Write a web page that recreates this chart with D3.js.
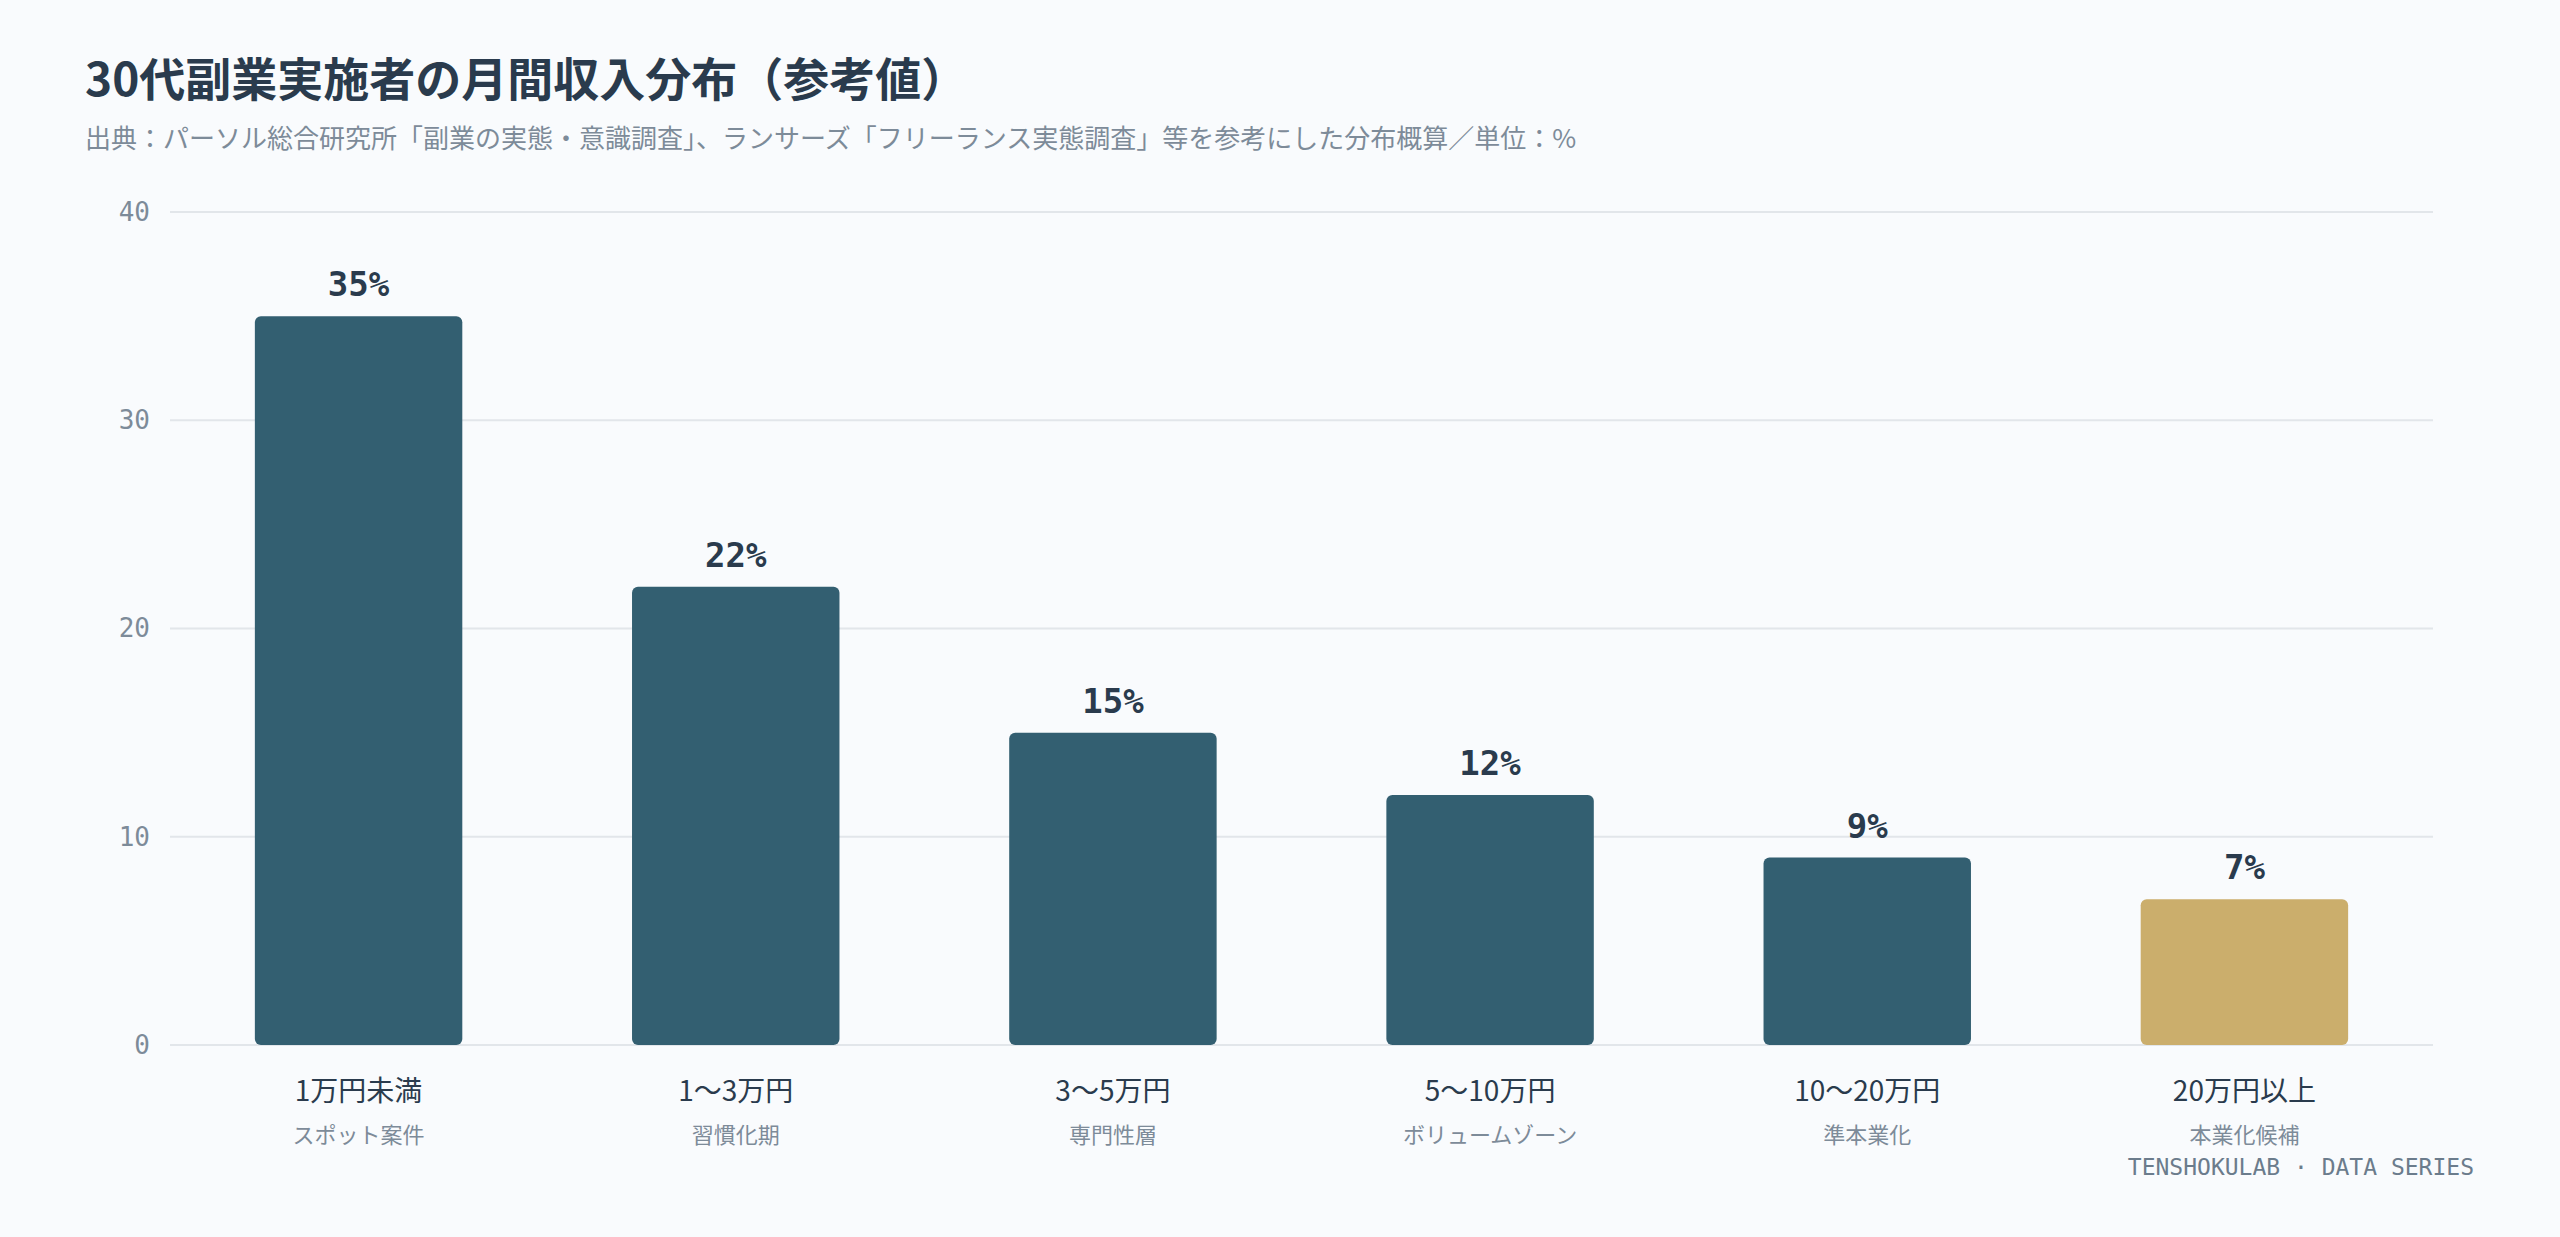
<!DOCTYPE html>
<html>
<head>
<meta charset="utf-8">
<script src="https://cdn.jsdelivr.net/npm/d3@7"></script>
<style>
  body { margin: 0; background: #f9fbfd; }
  svg { display: block; }
</style>
</head>
<body>
<div id="chart"></div>
<script>
const categories = ["1万円未満", "1〜3万円", "3〜5万円", "5〜10万円", "10〜20万円", "20万円以上"];
const subLabels = ["スポット案件", "習慣化期", "専門性層", "ボリュームゾーン", "準本業化", "本業化候補"];
const values = [35, 22, 15, 12, 9, 7];
const yTicks = [0, 10, 20, 30, 40];

const WIDTH = 2560, HEIGHT = 1237;
const MARGIN = { top: 212, right: 127, bottom: 192, left: 170 };
const SANS = "'Noto Sans CJK JP', 'Noto Sans', sans-serif";
const MONO = "'DejaVu Sans Mono', monospace";

const svg = d3.select("#chart").append("svg")
  .attr("width", WIDTH).attr("height", HEIGHT);
svg.append("rect").attr("width", WIDTH).attr("height", HEIGHT).attr("fill", "#f9fbfd");

svg.append("text").attr("x", 85).attr("y", 96)
  .attr("font-family", SANS).attr("font-weight", 700).attr("font-size", 46)
  .attr("fill", "#2a3b4d").text("30代副業実施者の月間収入分布（参考値）");
svg.append("text").attr("x", 85).attr("y", 148)
  .attr("font-family", SANS).attr("font-size", 26).attr("fill", "#7d8b99")
  .text("出典：パーソル総合研究所「副業の実態・意識調査」、ランサーズ「フリーランス実態調査」等を参考にした分布概算／単位：%");

const x = d3.scaleBand().domain(categories)
  .range([MARGIN.left, WIDTH - MARGIN.right]).paddingInner(0.45).paddingOuter(0.225);
const y = d3.scaleLinear().domain([0, 40]).range([HEIGHT - MARGIN.bottom, MARGIN.top]);

// grid
svg.append("g").selectAll("line").data(yTicks).join("line")
  .attr("x1", MARGIN.left).attr("x2", WIDTH - MARGIN.right)
  .attr("y1", d => y(d)).attr("y2", d => y(d))
  .attr("stroke", "#e2e6ea").attr("stroke-width", 2);

// y axis labels
const yAxis = svg.append("g").attr("transform", `translate(${MARGIN.left - 20},0)`)
  .call(d3.axisLeft(y).tickValues(yTicks).tickSize(0).tickPadding(0));
yAxis.select(".domain").remove();
yAxis.selectAll("text").attr("font-family", MONO).attr("font-size", 26).attr("fill", "#7d8b99");

// bars
svg.append("g").selectAll("rect").data(values).join("rect")
  .attr("x", (d, i) => x(categories[i]))
  .attr("y", d => y(d))
  .attr("width", x.bandwidth())
  .attr("height", d => y(0) - y(d))
  .attr("rx", 6)
  .attr("fill", (d, i) => i === values.length - 1 ? "#cbae6c" : "#335f71");

// value labels
svg.append("g").selectAll("text").data(values).join("text")
  .attr("x", (d, i) => x(categories[i]) + x.bandwidth() / 2)
  .attr("y", d => y(d) - 20)
  .attr("text-anchor", "middle")
  .attr("font-family", MONO).attr("font-weight", 700).attr("font-size", 34)
  .attr("fill", "#2a3b4d").text(d => d + "%");

// category labels
const xl = svg.append("g").selectAll("g").data(categories).join("g")
  .attr("transform", d => `translate(${x(d) + x.bandwidth() / 2},0)`);
xl.append("text").attr("y", 1101).attr("text-anchor", "middle")
  .attr("font-family", SANS).attr("font-size", 28).attr("fill", "#2a3b4d").text(d => d);
xl.append("text").attr("y", 1143).attr("text-anchor", "middle")
  .attr("font-family", SANS).attr("font-size", 22).attr("fill", "#7d8b99")
  .text((d, i) => subLabels[i]);

svg.append("text").attr("x", 2474).attr("y", 1175).attr("text-anchor", "end")
  .attr("font-family", MONO).attr("font-size", 23).attr("fill", "#6b7c8c")
  .text("TENSHOKULAB · DATA SERIES");
</script>
</body>
</html>
